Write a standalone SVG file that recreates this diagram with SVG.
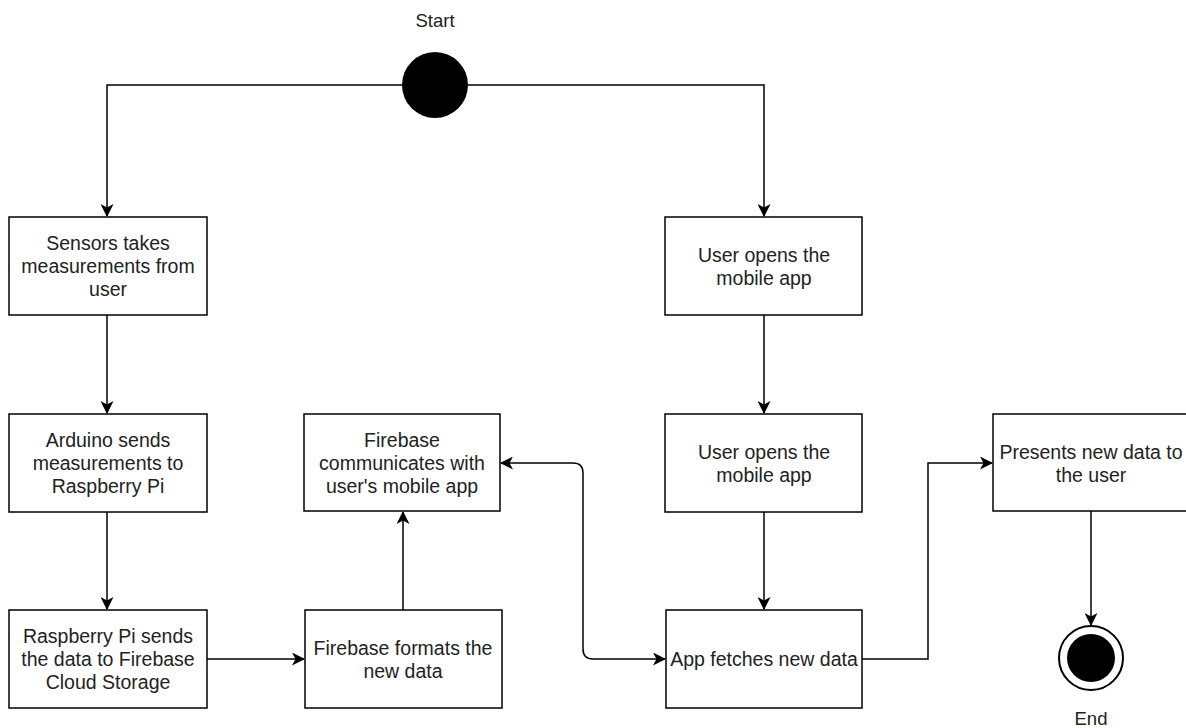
<svg xmlns="http://www.w3.org/2000/svg" width="1186" height="728" viewBox="0 0 1186 728">
<style>
.box{fill:#fff;stroke:#000;stroke-width:1.5}
.t{font-family:"Liberation Sans",Arial,sans-serif;font-size:19.5px;fill:#222;text-anchor:middle}
.l{font-family:"Liberation Sans",Arial,sans-serif;font-size:18.5px;fill:#222;text-anchor:middle}
.c{fill:none;stroke:#000;stroke-width:1.5}
</style>
<defs>
<marker id="arr" viewBox="0 0 13 13" refX="12" refY="6.5" markerWidth="13" markerHeight="13" markerUnits="userSpaceOnUse" orient="auto-start-reverse">
<path d="M0,0 L13,6.5 L0,13 L3.5,6.5 Z" fill="#000"/>
</marker>
</defs>
<rect width="1186" height="728" fill="#fff"/>
<g id="connectors">
<path class="c" d="M402,85 H107 V216" marker-end="url(#arr)"/>
<path class="c" d="M468,85 H764 V216" marker-end="url(#arr)"/>
<path class="c" d="M107,315 V413" marker-end="url(#arr)"/>
<path class="c" d="M107,512 V609" marker-end="url(#arr)"/>
<path class="c" d="M207,659 H304" marker-end="url(#arr)"/>
<path class="c" d="M403,610 V512" marker-end="url(#arr)"/>
<path class="c" d="M501,463 H573 Q583,463 583,473 V649 Q583,659 593,659 H665" marker-start="url(#arr)" marker-end="url(#arr)"/>
<path class="c" d="M764,315 V413" marker-end="url(#arr)"/>
<path class="c" d="M764,512 V609" marker-end="url(#arr)"/>
<path class="c" d="M862,659 H928 V463 H992" marker-end="url(#arr)"/>
<path class="c" d="M1091,511 V625" marker-end="url(#arr)"/>
</g>
<g id="start">
<circle cx="435" cy="85" r="33" fill="#000"/>
<text class="l" x="435" y="27">Start</text>
</g>
<g id="end">
<circle cx="1091" cy="658" r="32" fill="#fff" stroke="#000" stroke-width="2"/>
<circle cx="1091" cy="658" r="24" fill="#000"/>
<text class="l" x="1091" y="725">End</text>
</g>
<g id="sensors">
<rect class="box" x="9" y="217" width="198" height="98"/>
<text class="t" x="108" y="250">Sensors takes</text>
<text class="t" x="108" y="273">measurements from</text>
<text class="t" x="108" y="296">user</text>
</g>
<g id="arduino">
<rect class="box" x="9" y="414" width="198" height="98"/>
<text class="t" x="108" y="447">Arduino sends</text>
<text class="t" x="108" y="470">measurements to</text>
<text class="t" x="108" y="493">Raspberry Pi</text>
</g>
<g id="raspberry">
<rect class="box" x="9" y="610" width="198" height="98"/>
<text class="t" x="108" y="643">Raspberry Pi sends</text>
<text class="t" x="108" y="666">the data to Firebase</text>
<text class="t" x="108" y="689">Cloud Storage</text>
</g>
<g id="fbformat">
<rect class="box" x="305" y="610" width="197" height="98"/>
<text class="t" x="403" y="655">Firebase formats the</text>
<text class="t" x="403" y="678">new data</text>
</g>
<g id="fbcomm">
<rect class="box" x="304" y="414" width="196" height="97"/>
<text class="t" x="402" y="447">Firebase</text>
<text class="t" x="402" y="470">communicates with</text>
<text class="t" x="402" y="493">user's mobile app</text>
</g>
<g id="open1">
<rect class="box" x="665" y="217" width="197" height="98"/>
<text class="t" x="764" y="262">User opens the</text>
<text class="t" x="764" y="285">mobile app</text>
</g>
<g id="open2">
<rect class="box" x="665" y="414" width="197" height="98"/>
<text class="t" x="764" y="459">User opens the</text>
<text class="t" x="764" y="482">mobile app</text>
</g>
<g id="fetch">
<rect class="box" x="666" y="610" width="196" height="98"/>
<text class="t" x="764" y="666">App fetches new data</text>
</g>
<g id="present">
<rect class="box" x="993" y="414" width="197" height="97"/>
<text class="t" x="1091" y="459">Presents new data to</text>
<text class="t" x="1091" y="482">the user</text>
</g>
</svg>
